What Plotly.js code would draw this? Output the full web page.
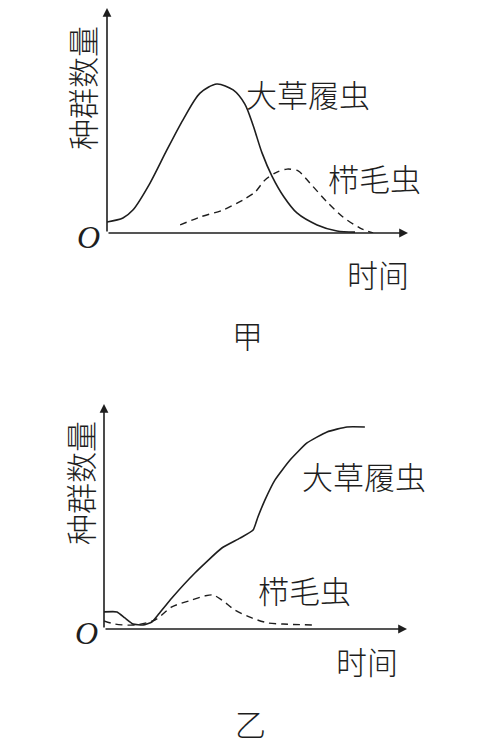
<!DOCTYPE html>
<html>
<head>
<meta charset="utf-8">
<script src="https://cdn.plot.ly/plotly-3.0.1.min.js"></script>
<style>html,body{margin:0;padding:0;background:#fff;}#chart{width:491px;height:749px;}</style>
</head>
<body>
<div id="chart"></div>
<script>
// ---- Data (arbitrary schematic units: time 0-100, population 0-100) ----
// 甲: 大草履虫 (solid)
const jiaParamX = [0, 5.3, 8.6, 14.3, 19.9, 25.2, 30.9, 36.5, 41.9, 45.8, 48.5, 51.5, 54.8, 58.8, 63.1, 69.8, 76.4, 82.4];
const jiaParamY = [4.9, 6.7, 10.2, 22.2, 36.9, 50.2, 62.2, 66.2, 63.6, 57.3, 48.0, 35.6, 25.3, 16.0, 8.9, 3.6, 0.9, 0.4];
// 甲: 栉毛虫 (dashed)
const jiaDidX = [24.3, 30.9, 38.5, 45.2, 49.2, 52.5, 56.5, 59.8, 63.5, 67.4, 73.1, 78.4, 84.1, 88.4];
const jiaDidY = [3.6, 7.1, 10.2, 14.7, 18.2, 23.6, 27.1, 28.4, 27.6, 22.2, 13.8, 7.1, 2.2, 0.0];
// 乙: 大草履虫 (solid)
const yiParamX = [0, 4.3, 6.9, 9.6, 12.9, 15.8, 17.8, 22.4, 30.0, 38.9, 44.9, 49.2, 50.8, 53.1, 56.4, 61.4, 67.0, 73.6, 80.2, 86.1];
const yiParamY = [7.6, 7.6, 4.9, 2.2, 1.8, 3.1, 6.2, 13.8, 24.9, 36.0, 40.4, 44.0, 49.8, 57.3, 66.2, 75.1, 82.7, 87.6, 89.8, 89.8];
// 乙: 栉毛虫 (dashed)
const yiDidX = [0, 3.6, 10.2, 16.8, 22.4, 29.0, 33.3, 36.0, 38.9, 43.2, 48.8, 54.1, 59.1, 68.6];
const yiDidY = [3.6, 2.2, 1.8, 4.0, 9.8, 12.9, 14.7, 15.1, 12.9, 8.4, 4.9, 2.7, 2.2, 1.8];

const labelParam = '大草履虫';
const labelDid = '栉毛虫';
const yTitle = '种群数量';
const xTitle = '时间';
const originLabel = 'O';
const panelNames = ['甲', '乙'];

// ---- Layout helpers ----
const W = 491, H = 749;
const ink = '#1e1e1e';
const cjk = '"Noto Sans CJK SC", "Noto Sans", sans-serif';
const px = (x) => x / W;
const py = (y) => 1 - y / H;
const FS = 31;

const solid = {color: ink, width: 1.6, shape: 'spline', smoothing: 0.8};
const solidSoft = {color: ink, width: 1.6, shape: 'spline', smoothing: 0.45};
const dashed = {color: ink, width: 1.4, shape: 'spline', smoothing: 0.8, dash: '7px,5px'};

const traces = [
  {x: jiaParamX, y: jiaParamY, xaxis: 'x', yaxis: 'y', mode: 'lines', line: solid, hoverinfo: 'skip'},
  {x: jiaDidX, y: jiaDidY, xaxis: 'x', yaxis: 'y', mode: 'lines', line: dashed, hoverinfo: 'skip'},
  {x: yiParamX, y: yiParamY, xaxis: 'x2', yaxis: 'y2', mode: 'lines', line: solidSoft, hoverinfo: 'skip'},
  {x: yiDidX, y: yiDidY, xaxis: 'x2', yaxis: 'y2', mode: 'lines', line: dashed, hoverinfo: 'skip'}
];

const hidden = {range: [0, 100], visible: false, showgrid: false, zeroline: false, fixedrange: true};

function arrow(xr, yr, x, y, ax, ay) {
  return {xref: xr, yref: yr, axref: xr, ayref: yr, x: x, y: y, ax: ax, ay: ay,
          text: '', showarrow: true, arrowhead: 2, arrowsize: 1.1, arrowwidth: 1.6,
          arrowcolor: ink, standoff: 0, startstandoff: 0};
}
function label(text, x, y, size, extra) {
  return Object.assign({xref: 'paper', yref: 'paper', x: px(x), y: py(y), text: text,
          showarrow: false, xanchor: 'center', yanchor: 'middle',
          font: {family: cjk, size: size, color: ink, weight: 300}}, extra || {});
}
const oFont = {family: '"Liberation Serif", "DejaVu Serif", serif', size: 32, color: ink, style: 'italic'};

const annotations = [
  // axes (arrows)
  arrow('x', 'y', 100, 0, 0, 0),
  arrow('x', 'y', 0, 100, 0, 0),
  arrow('x2', 'y2', 100, 0, 0, 0),
  arrow('x2', 'y2', 0, 100, 0, 0),
  // panel 甲
  label(labelParam, 308, 93, FS),
  label(labelDid, 374, 178, FS),
  label(yTitle, 82, 88, FS, {textangle: -90}),
  label(xTitle, 378, 274, FS),
  label(originLabel, 88, 237, 32, {font: oFont}),
  label(panelNames[0], 247, 334, FS),
  // panel 乙
  label(labelParam, 364, 476, FS),
  label(labelDid, 304, 589, FS),
  label(yTitle, 80, 483, FS, {textangle: -90}),
  label(xTitle, 367, 660, FS),
  label(originLabel, 86, 633, 32, {font: oFont}),
  label(panelNames[1], 250, 722, FS)
];

const layout = {
  width: W, height: H,
  margin: {l: 0, r: 0, t: 0, b: 0},
  paper_bgcolor: '#fff', plot_bgcolor: 'rgba(0,0,0,0)',
  showlegend: false,
  xaxis: Object.assign({domain: [px(107), px(408)], anchor: 'y'}, hidden),
  yaxis: Object.assign({domain: [py(233), py(8)], anchor: 'x'}, hidden),
  xaxis2: Object.assign({domain: [px(104), px(407)], anchor: 'y2'}, hidden),
  yaxis2: Object.assign({domain: [py(629), py(404)], anchor: 'x2'}, hidden),
  annotations: annotations
};

Plotly.newPlot('chart', traces, layout, {staticPlot: true, displayModeBar: false});
</script>
</body>
</html>
